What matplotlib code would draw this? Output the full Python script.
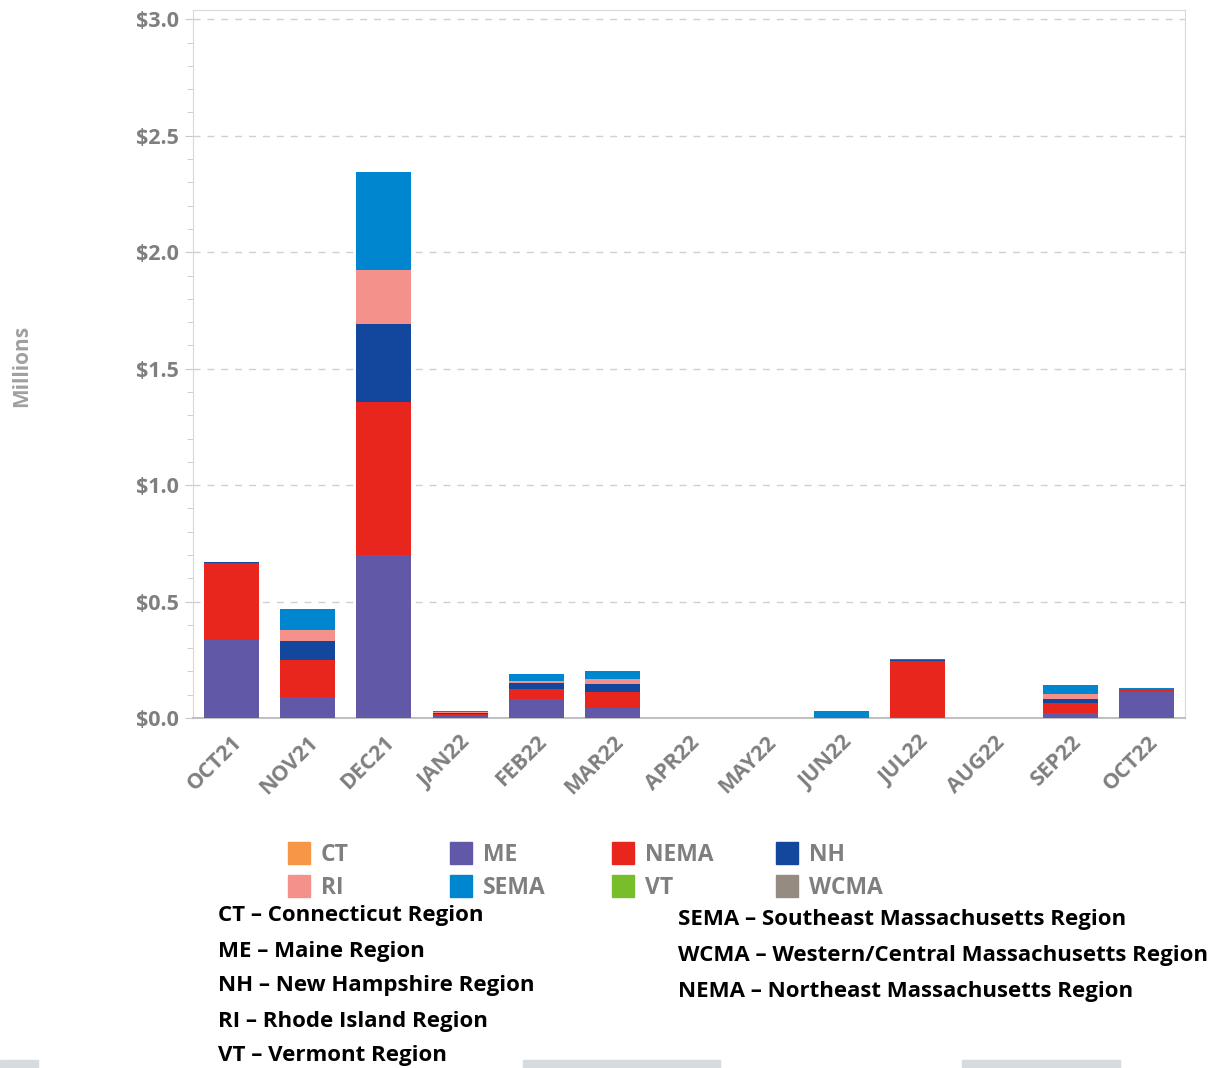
import matplotlib
matplotlib.use("Agg")
import matplotlib.pyplot as plt
import numpy as np
from matplotlib.patches import Rectangle
from matplotlib.ticker import MultipleLocator

months = ["OCT21", "NOV21", "DEC21", "JAN22", "FEB22", "MAR22", "APR22",
          "MAY22", "JUN22", "JUL22", "AUG22", "SEP22", "OCT22"]
regions = ["CT", "ME", "NEMA", "NH", "RI", "SEMA", "VT", "WCMA"]
CT   = [0, 0, 0, 0, 0, 0, 0, 0, 0, 0, 0, 0, 0]
ME   = [0.335, 0.090, 0.700, 0.007, 0.082, 0.044, 0, 0, 0, 0.003, 0, 0.021, 0.113]
NEMA = [0.330, 0.159, 0.656, 0.010, 0.044, 0.069, 0, 0, 0, 0.242, 0, 0.042, 0.010]
NH   = [0.006, 0.082, 0.335, 0.003, 0.023, 0.033, 0, 0, 0, 0.004, 0, 0.018, 0.000]
RI   = [0.000, 0.048, 0.232, 0.005, 0.010, 0.020, 0, 0, 0, 0.000, 0, 0.020, 0.000]
SEMA = [0.000, 0.090, 0.420, 0.006, 0.028, 0.036, 0, 0, 0.030, 0.004, 0, 0.040, 0.005]
VT   = [0, 0, 0, 0, 0, 0, 0, 0, 0, 0, 0, 0, 0]
WCMA = [0, 0, 0, 0, 0, 0, 0, 0, 0, 0, 0, 0, 0]
series = [CT, ME, NEMA, NH, RI, SEMA, VT, WCMA]
colors = ["#F79646", "#6159A8", "#E8261E", "#13479D", "#F4918A", "#0085CF", "#78BE2A", "#968B80"]
yticks = [0.0, 0.5, 1.0, 1.5, 2.0, 2.5, 3.0]
ytick_labels = ["$0.0", "$0.5", "$1.0", "$1.5", "$2.0", "$2.5", "$3.0"]
notes_left = ["CT – Connecticut Region", "ME – Maine Region", "NH – New Hampshire Region",
              "RI – Rhode Island Region", "VT – Vermont Region"]
notes_right = ["SEMA – Southeast Massachusetts Region",
               "WCMA – Western/Central Massachusetts Region",
               "NEMA – Northeast Massachusetts Region"]

plt.rcParams['font.family'] = ['Open Sans', 'DejaVu Sans']
W, H = 1221, 1068
fig = plt.figure(figsize=(W / 100, H / 100), dpi=100)
ax = fig.add_axes([193 / W, 1 - 718 / H, (1185 - 193) / W, (718 - 10) / H])

gray = "#7F7F7F"
x = np.arange(len(months))
bottom = np.zeros(len(months))
for name, vals, c in zip(regions, series, colors):
    v = np.array(vals)
    ax.bar(x, v, bottom=bottom, width=0.72, color=c, label=name, zorder=3)
    bottom += v

ax.set_xlim(-0.5, len(months) - 0.5)
ax.set_ylim(0, 3.04)
ax.set_yticks(yticks)
ax.set_yticklabels(ytick_labels)
ax.yaxis.set_minor_locator(MultipleLocator(0.1))
ax.grid(axis='y', which='major', linestyle=(0, (5, 5)), color="#D0D0D0", linewidth=1, zorder=0)
ax.set_xticks(x)
ax.set_xticklabels(months, rotation=45, ha='right', rotation_mode='anchor')
for lbl in ax.get_xticklabels() + ax.get_yticklabels():
    lbl.set_color(gray)
    lbl.set_fontweight('bold')
    lbl.set_fontsize(15.5)
ax.tick_params(axis='x', length=0, pad=10)
ax.tick_params(axis='y', which='major', length=6, color="#C8C8C8", pad=4)
ax.tick_params(axis='y', which='minor', length=4, color="#C8C8C8")
for s in ["left", "top", "right"]:
    ax.spines[s].set_color("#D9D9D9")
ax.spines["bottom"].set_color("#C0C0C0")
ax.spines["bottom"].set_linewidth(1.5)

fig.text(22 / W, 1 - 366 / H, "Millions", rotation=90, ha='center', va='center',
         color="#A0A0A0", fontweight='bold', fontsize=15)

# legend, row-major in 4 columns
col_x = [288, 450, 612, 776]
row_y = [853, 886]
for i, (name, c) in enumerate(zip(regions, colors)):
    r, k = divmod(i, 4)
    px, py = col_x[k], row_y[r]
    fig.add_artist(Rectangle((px / W, 1 - (py + 11) / H), 22 / W, 22 / H,
                             transform=fig.transFigure, color=c))
    fig.text((px + 33) / W, 1 - (py + 2) / H, name, ha='left', va='center',
             fontsize=16.5, fontweight='bold', color=gray)

for i, t in enumerate(notes_left):
    fig.text(218 / W, 1 - (916 + 35 * i) / H, t, ha='left', va='center',
             fontsize=16, fontweight='bold', color='black')
for i, t in enumerate(notes_right):
    fig.text(678 / W, 1 - (920 + 35.5 * i) / H, t, ha='left', va='center',
             fontsize=16, fontweight='bold', color='black')

for (x0, x1) in [(0, 38), (523, 720), (962, 1120)]:
    fig.patches.append(Rectangle((x0 / W, 0), (x1 - x0) / W, 8 / H,
                                 transform=fig.transFigure, color="#D5DBDF", zorder=0))

fig.savefig("out.png", dpi=100)
